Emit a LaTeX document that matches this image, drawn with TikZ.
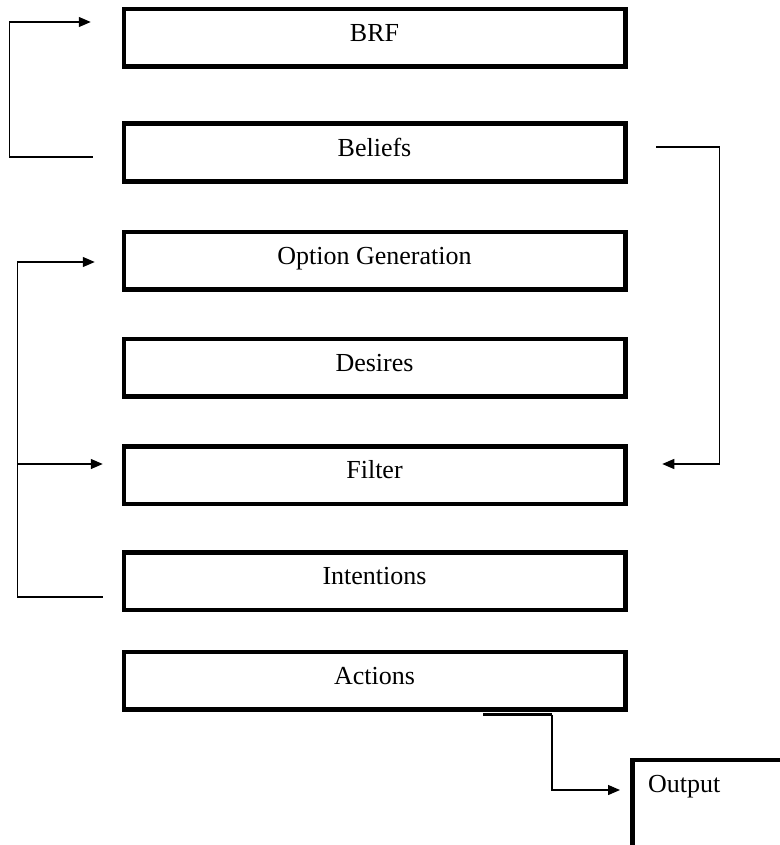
\documentclass[tikz,border=0pt]{standalone}
\usepackage{fontspec}
\setmainfont{Liberation Serif}
\usetikzlibrary{arrows.meta,calc}
\begin{document}
\begin{tikzpicture}[x=1pt,y=-1pt,
  stage/.style={draw=black, line width=4.5pt, fill=white,
    minimum width=501.5pt, minimum height=57.5pt, inner sep=0pt,
    text height=16pt, text depth=8.5pt,
    font=\fontsize{26}{30}\selectfont},
  frame/.style={draw=black, line width=4.5pt, fill=white,
    minimum width=200pt, minimum height=130pt, inner sep=0pt},
  caption/.style={inner sep=0pt, font=\fontsize{26}{30}\selectfont},
  conn/.style={draw=black, line width=1.3pt,
    -{Triangle[length=12pt,width=10pt]}}]
\useasboundingbox (0,0) rectangle (779,845);

% the stages of the reasoning loop
\node[stage] (brf)        at (374.5,38)    {BRF};
\node[stage] (beliefs)    at (374.5,152.5) {Beliefs};
\node[stage] (optgen)     at (374.5,260.5) {Option Generation};
\node[stage] (desires)    at (374.5,367.5) {Desires};
\node[stage] (filter)     at (374.5,475)   {Filter};
\node[stage] (intentions) at (374.5,581)   {Intentions};
\node[stage] (actions)    at (374.5,680.5) {Actions};

% output box, running off the lower right corner
\node[frame, anchor=north west] (output) at (630,757.5) {};
\node[caption, anchor=base west] (outtext) at (648,792) {Output};

% connector end points, kept clear of the boxes
\coordinate (bout)  at ($(beliefs.west)+(-28.75,4.5)$);
\coordinate (brfin) at ($(brf.west)+(-30.75,-16)$);
\coordinate (bout2) at ($(beliefs.east)+(28.75,-5.5)$);
\coordinate (filin) at ($(filter.east)+(34.75,-11)$);
\coordinate (iout)  at ($(intentions.west)+(-18.75,16)$);
\coordinate (ogin)  at ($(optgen.west)+(-26.75,1.5)$);
\coordinate (fin)   at ($(filter.west)+(-18.75,-11)$);
\coordinate (aout)  at ($(actions.south)+(108.5,3)$);
\coordinate (abend) at ($(aout)+(69,0)$);
\coordinate (outin) at ($(output.north west)+(-10,32.5)$);

% beliefs feed back into the belief revision function
\draw[conn] (bout) -- ++(-83,0) |- (brfin);
% beliefs feed the filter
\draw[conn] (bout2) -- ++(63,0) |- (filin);
% intentions feed option generation and the filter
\draw[conn] (iout) -- ++(-85,0) |- (ogin);
\draw[conn] ($(fin)+(-85,0)$) -- (fin);
% actions produce the output
\draw[line width=2.2pt] (aout) -- (abend);
\draw[conn] (abend) |- (outin);
\end{tikzpicture}
\end{document}
